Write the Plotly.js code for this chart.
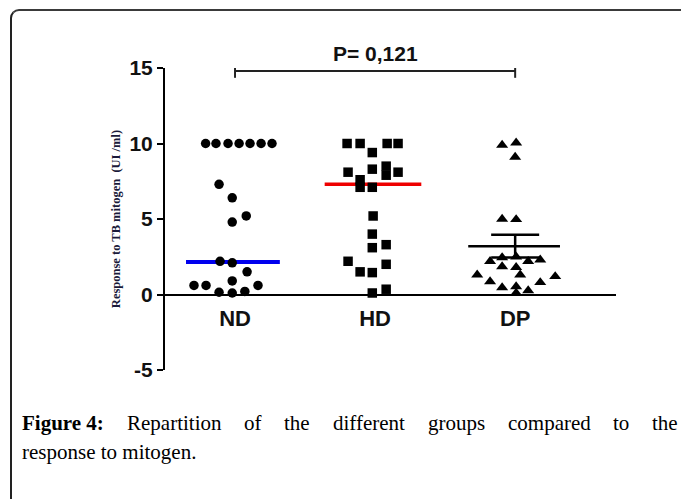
<!DOCTYPE html>
<html>
<head>
<meta charset="utf-8">
<script src="https://cdn.plot.ly/plotly-3.0.1.min.js"></script>
<style>
html,body{margin:0;padding:0;background:#fff;}
#wrap{position:relative;width:681px;height:499px;overflow:hidden;}
#chart{position:absolute;left:0;top:0;width:681px;height:499px;}
#frame{position:absolute;left:10px;top:9px;width:700px;height:520px;border-left:2px solid #222;border-top:2px solid #3a3a3a;border-top-left-radius:9px;pointer-events:none;}
</style>
</head>
<body>
<div id="wrap"><div id="chart"></div><div id="frame"></div></div>
<script>
// ---- data ----
const categories = ['ND', 'HD', 'DP'];
const ndValues = [10,10,10,10,10,10,10, 7.3,6.4,5.2,4.8, 2.2,2.1, 1.5,0.9, 0.6,0.6,0.15,0.1,0.2,0.6];
const ndJitter = [-0.21,-0.136,-0.05,0.029,0.107,0.186,0.264, -0.114,-0.02,0.08,-0.02, -0.107,-0.02, 0.086,-0.02, -0.293,-0.207,-0.114,-0.02,0.07,0.164];
const hdValues = [10,10,10,10, 9.4, 8.1,8.3,8.5,7.9,8.1, 7.6, 7.1,7.1, 5.2, 4.0, 3.1,3.3, 2.2,2.0, 1.5,1.45, 0.1,0.35];
const hdJitter = [-0.2,-0.107,0.086,0.164, -0.02, -0.193,-0.02,0.079,0.079,0.164, -0.107, -0.107,-0.02, -0.014, -0.02, -0.02,0.079, -0.193,0.079, -0.107,-0.02, -0.02,0.079];
const dpValues = [9.9,10.05,9.1, 5.0,4.97, 2.2,2.45,2.5,2.2,2.3, 1.85,1.8,1.3, 1.3,0.86,1.2, 0.46,0.53,0.26,0.8, 0.1];
const dpJitter = [-0.093,0.007,0.0, -0.093,0.007, -0.179,-0.093,0.007,0.093,0.179, -0.093,0.007,0.036, -0.271,-0.179,0.286, -0.093,0.007,0.093,0.179, 0.007];
const ndMedian = 2.15;
const hdMedian = 7.3;
const dpMean = 3.2;
const dpSem = 0.75;
const pText = 'P= 0,121';
const bracketY = 14.8;
const yTicks = [-5, 0, 5, 10, 15];
const captionBold = 'Figure 4:';
const captionLine1 = 'Repartition of the different groups compared to the';
const captionLine2 = 'response to mitogen.';

const pts = (vals, jit, c) => ({x: vals.map((v, i) => c + jit[i]), y: vals});
const nd = pts(ndValues, ndJitter, 0);
const hd = pts(hdValues, hdJitter, 1);
const dp = pts(dpValues, dpJitter, 2);

const traces = [
  {x:[-0.35, 0.32], y:[ndMedian, ndMedian], mode:'lines', line:{color:'#0000ee', width:4}, hoverinfo:'skip'},
  {x:[1-0.36, 1+0.33], y:[hdMedian, hdMedian], mode:'lines', line:{color:'#ee0000', width:3.5}, hoverinfo:'skip'},
  {x:[2-0.335, 2+0.32], y:[dpMean, dpMean], mode:'lines', line:{color:'#000', width:2.5}, hoverinfo:'skip'},
  {x:[2], y:[dpMean], mode:'markers', marker:{size:1, opacity:0},
   error_y:{type:'data', array:[dpSem], width:24, thickness:2.5, color:'#000'}},
  {x:nd.x, y:nd.y, mode:'markers', marker:{symbol:'circle', size:9.5, color:'#000'}, cliponaxis:false},
  {x:hd.x, y:hd.y, mode:'markers', marker:{symbol:'square', size:9.5, color:'#000'}, cliponaxis:false},
  {x:dp.x, y:dp.y, mode:'markers', marker:{symbol:'triangle-up', size:10.5, color:'#000'}, cliponaxis:false},
  {x:[0, 0, null, 0, 2, null, 2, 2], y:[bracketY+0.4, bracketY-0.45, null, bracketY, bracketY, null, bracketY+0.4, bracketY-0.45],
   mode:'lines', line:{color:'#222', width:2}, hoverinfo:'skip'}
];

const L = 165, R = 65, T = 68, B = 129;
const W = 681 - L - R, H = 499 - T - B;
const px2paperX = p => (p - L) / W;
const px2paperY = p => (499 - B - p) / H;

// caption (justified first line)
const ctx = document.createElement('canvas').getContext('2d');
const capSize = 21;
const capFam = 'Liberation Serif';
function measure(t, bold) { ctx.font = (bold ? 'bold ' : '') + capSize + 'px "' + capFam + '"'; return ctx.measureText(t).width; }
const words1 = [{t:captionBold, b:true}].concat(captionLine1.split(' ').map(t => ({t, b:false})));
const left = 20, right = 676;
const total = words1.reduce((s, w) => s + measure(w.t, w.b), 0);
const gap = (right - left - total) / (words1.length - 1);
const annotations = [];
let cx = left;
words1.forEach(w => {
  annotations.push({xref:'paper', yref:'paper', x:px2paperX(cx), y:px2paperY(423), xanchor:'left', yanchor:'middle',
    text: w.b ? '<b>' + w.t + '</b>' : w.t, showarrow:false, font:{family:capFam, size:capSize, color:'#000'}});
  cx += measure(w.t, w.b) + gap;
});
annotations.push({xref:'paper', yref:'paper', x:px2paperX(left), y:px2paperY(452), xanchor:'left', yanchor:'middle',
  text: captionLine2, showarrow:false, font:{family:capFam, size:capSize, color:'#000'}});
annotations.push({xref:'x', yref:'y', x:1, y:bracketY, xanchor:'center', yanchor:'bottom', yshift:4,
  text:'<b>' + pText + '</b>', showarrow:false, font:{family:'Liberation Sans', size:21, color:'#111'}});

const layout = {
  width:681, height:499,
  margin:{l:L, r:R, t:T, b:B, pad:0},
  paper_bgcolor:'#fff', plot_bgcolor:'#fff',
  showlegend:false,
  xaxis:{range:[-0.5, 2.72], tickvals:[0,1,2], ticktext:categories, anchor:'free', position:0.25,
    showline:true, linecolor:'#000', linewidth:2, ticks:'', showgrid:false, zeroline:false,
    tickfont:{family:'Liberation Sans', size:22, color:'#111', weight:'bold'}, ticklabelstandoff:4, fixedrange:true},
  yaxis:{range:[-5, 15], tickvals:yTicks, ticktext:yTicks.map(String), showline:true, linecolor:'#000', linewidth:2,
    ticks:'outside', ticklen:6, tickwidth:2, tickcolor:'#000', showgrid:false, zeroline:false,
    tickfont:{family:'Liberation Sans', size:21, color:'#111', weight:'bold'},
    title:{text:'Response to TB mitogen  (UI /ml)', font:{family:'Liberation Serif', size:12.5, color:'#1a1a3a', weight:'bold'}, standoff:6},
    fixedrange:true},
  annotations: annotations
};
Plotly.newPlot('chart', traces, layout, {displayModeBar:false, staticPlot:true});
</script>
</body>
</html>
